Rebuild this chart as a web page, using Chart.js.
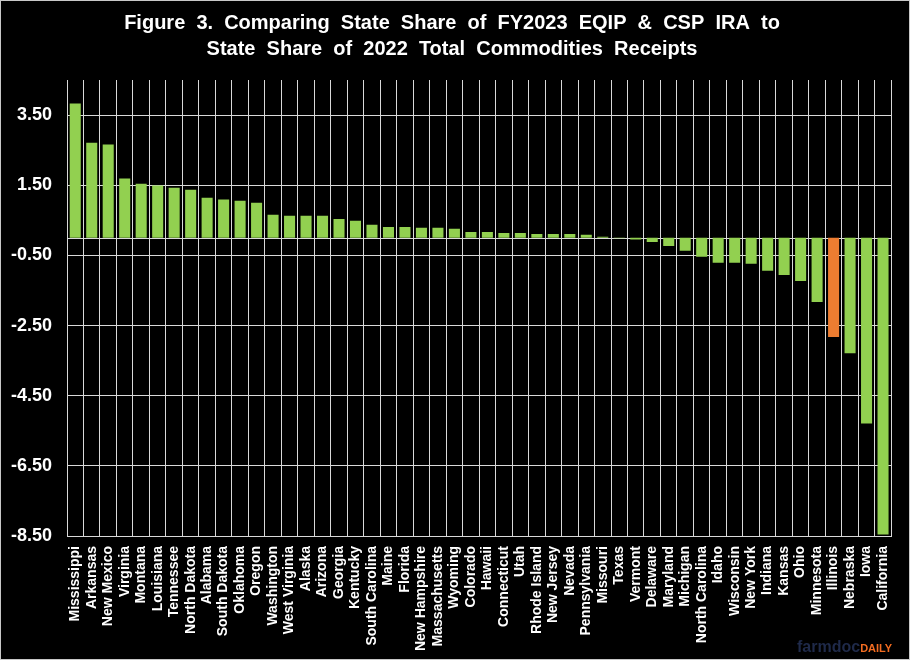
<!DOCTYPE html>
<html>
<head>
<meta charset="utf-8">
<title>Figure 3</title>
<script src="https://cdn.jsdelivr.net/npm/chart.js@4/dist/chart.umd.min.js"></script>
<style>
  html, body { margin: 0; padding: 0; background: #000; }
  #wrap { width: 910px; height: 660px; position: relative; }
</style>
</head>
<body>
<div id="wrap"><canvas id="chart-share"></canvas></div>
<script>
// States, ordered as in the figure
const states = [
  'Mississippi', 'Arkansas', 'New Mexico', 'Virginia', 'Montana', 'Louisiana',
  'Tennessee', 'North Dakota', 'Alabama', 'South Dakota', 'Oklahoma', 'Oregon',
  'Washington', 'West Virginia', 'Alaska', 'Arizona', 'Georgia', 'Kentucky',
  'South Carolina', 'Maine', 'Florida', 'New Hampshire', 'Massachusetts', 'Wyoming',
  'Colorado', 'Hawaii', 'Connecticut', 'Utah', 'Rhode Island', 'New Jersey',
  'Nevada', 'Pennsylvania', 'Missouri', 'Texas', 'Vermont', 'Delaware',
  'Maryland', 'Michigan', 'North Carolina', 'Idaho', 'Wisconsin', 'New York',
  'Indiana', 'Kansas', 'Ohio', 'Minnesota', 'Illinois', 'Nebraska', 'Iowa', 'California'
];

// share difference (percentage points)
const shareDiff = [
  3.83, 2.71, 2.66, 1.69, 1.54, 1.49,
  1.43, 1.37, 1.14, 1.09, 1.06, 1.00,
  0.66, 0.63, 0.63, 0.63, 0.54, 0.49,
  0.37, 0.31, 0.31, 0.29, 0.29, 0.26,
  0.17, 0.17, 0.14, 0.14, 0.11, 0.11,
  0.11, 0.09, 0.03, -0.01, -0.05, -0.12,
  -0.23, -0.37, -0.54, -0.71, -0.71, -0.74,
  -0.94, -1.06, -1.23, -1.83, -2.83, -3.29, -5.29, -8.46
];

const yTicks = [-8.5, -6.5, -4.5, -2.5, -0.5, 1.5, 3.5];
const highlightState = 'Illinois';

const colors = {
  bar: '#92D050',
  highlight: '#ED7D31',
  grid: '#D9D9D9',
  text: '#FFFFFF',
  navy: '#1F2A4A',
  orange: '#F26C21'
};

// black background, zero line, outer border and logo text
const extras = {
  id: 'extras',
  beforeDraw(chart) {
    const c = chart.ctx;
    c.save();
    c.fillStyle = '#000';
    c.fillRect(0, 0, chart.width, chart.height);
    c.restore();
  },
  beforeDatasetsDraw(chart) {
    const c = chart.ctx;
    const area = chart.chartArea;
    const y0 = Math.round(chart.scales.y.getPixelForValue(0)) + 0.5;
    c.save();
    c.strokeStyle = colors.grid;
    c.lineWidth = 1;
    c.beginPath();
    c.moveTo(area.left, y0);
    c.lineTo(area.right, y0);
    c.stroke();
    c.restore();
  },
  afterDraw(chart) {
    const c = chart.ctx;
    c.save();
    c.strokeStyle = '#C8C8C8';
    c.lineWidth = 1;
    c.strokeRect(0.5, 0.5, chart.width - 1, chart.height - 1);
    c.textBaseline = 'alphabetic';
    c.textAlign = 'left';
    c.font = 'bold 16px "Liberation Sans", Arial, sans-serif';
    c.fillStyle = colors.navy;
    c.fillText('farmdoc', 797, 652);
    const w = c.measureText('farmdoc').width;
    c.font = 'bold 11px "Liberation Sans", Arial, sans-serif';
    c.fillStyle = colors.orange;
    c.fillText('DAILY', 797 + w, 652);
    c.restore();
  }
};

const ctx = document.getElementById('chart-share');
new Chart(ctx, {
  type: 'bar',
  data: {
    labels: states,
    datasets: [{
      data: shareDiff,
      backgroundColor: states.map(s => s === highlightState ? colors.highlight : colors.bar),
      borderWidth: 0,
      categoryPercentage: 1.0,
      barPercentage: 0.67
    }]
  },
  options: {
    responsive: true,
    maintainAspectRatio: false,
    animation: false,
    layout: {
      padding: { left: 10, right: 16, top: 0, bottom: 0 }
    },
    plugins: {
      legend: { display: false },
      tooltip: { enabled: false },
      title: {
        display: true,
        text: [
          'Figure  3.  Comparing  State  Share  of  FY2023  EQIP  &  CSP  IRA  to',
          'State  Share  of  2022  Total  Commodities  Receipts'
        ],
        color: colors.text,
        font: { family: '"Liberation Sans", Arial, sans-serif', size: 20, weight: 'bold', lineHeight: 1.3 },
        padding: { top: 10, bottom: 18 }
      }
    },
    scales: {
      x: {
        grid: { color: colors.grid, drawTicks: false, offset: true },
        border: { color: colors.grid },
        afterFit: function(axis) {
          axis.height = 124;
        },
        ticks: {
          color: colors.text,
          autoSkip: false,
          maxRotation: 90,
          minRotation: 90,
          padding: 10,
          font: { family: '"Liberation Sans", Arial, sans-serif', size: 14, weight: 'bold' }
        }
      },
      y: {
        min: -8.5,
        max: 4.5,
        afterBuildTicks: function(axis) {
          axis.ticks = yTicks.map(v => ({ value: v }));
        },
        afterFit: function(axis) {
          axis.width = 57;
        },
        grid: { color: colors.grid, drawTicks: false },
        border: { color: colors.grid },
        ticks: {
          color: colors.text,
          padding: 15,
          font: { family: '"Liberation Sans", Arial, sans-serif', size: 18, weight: 'bold' },
          callback: function(value) {
            return value.toFixed(2);
          }
        }
      }
    }
  },
  plugins: [extras]
});
</script>
</body>
</html>
